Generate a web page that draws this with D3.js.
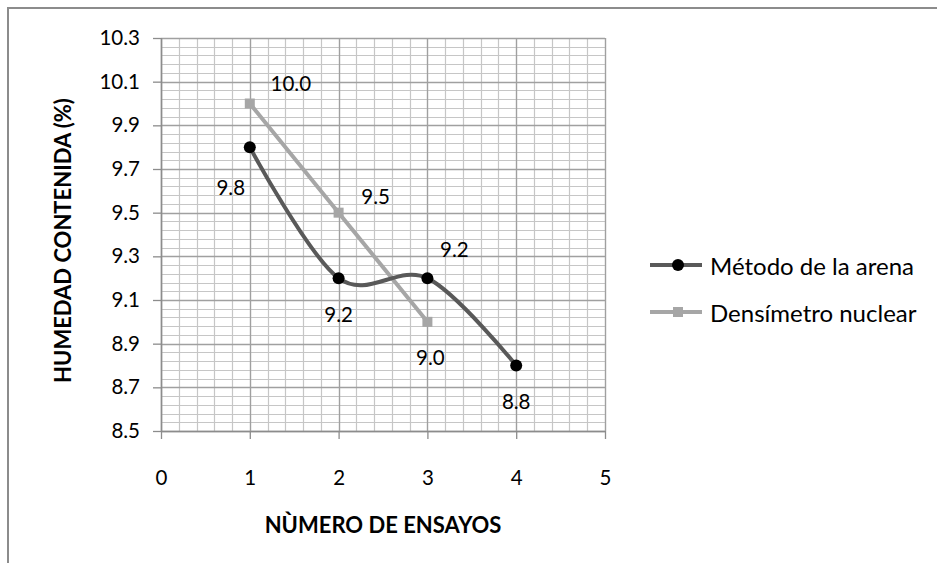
<!DOCTYPE html>
<html>
<head>
<meta charset="utf-8">
<script src="https://cdn.jsdelivr.net/npm/d3@7"></script>
<style>
  body { margin: 0; background: #fff; }
  text { font-family: Lato, "Open Sans", sans-serif; fill: #000; }
</style>
</head>
<body>
<div id="d3"></div>
<script>
// data
var ensayos = [1, 2, 3, 4];
var arena = [9.8, 9.2, 9.2, 8.8];          // Método de la arena
var nuclear = [10.0, 9.5, 9.0];            // Densímetro nuclear
var seriesNames = ["Método de la arena", "Densímetro nuclear"];
var xTicks = [0, 1, 2, 3, 4, 5];
var yTicks = [8.5, 8.7, 8.9, 9.1, 9.3, 9.5, 9.7, 9.9, 10.1, 10.3];

// where each data label sits relative to its point (px)
var arenaLabelOff = [[-19, 40], [0, 36], [27, -29], [0, 35]];
var nuclearLabelOff = [[41, -21], [37, -17], [3, 35]];

var width = 937, height = 563;
var margin = {left: 161, top: 38};
var plotW = 444, plotH = 393;

var svg = d3.select("#d3").append("svg").attr("width", width).attr("height", height);

// outer frame (cut off on right and bottom like the source)
svg.append("rect")
    .attr("x", 8).attr("y", 8).attr("width", 1000).attr("height", 1000)
    .attr("fill", "none").attr("stroke", "#8c8c8c").attr("stroke-width", 2);

var x = d3.scaleLinear().domain([0, 5]).range([0, plotW]);
var y = d3.scaleLinear().domain([8.5, 10.3]).range([plotH, 0]);

var g = svg.append("g").attr("transform", "translate(" + margin.left + "," + margin.top + ")");

// minor grid
var minorX = d3.range(0, 5.0001, 0.2);
var minorY = d3.range(8.5, 10.30001, 0.04);
g.append("g").selectAll("line").data(minorX).enter().append("line")
    .attr("x1", function(d){ return Math.round(x(d)) + 0.5; })
    .attr("x2", function(d){ return Math.round(x(d)) + 0.5; })
    .attr("y1", 0).attr("y2", plotH)
    .attr("stroke", "#c6c6c6").attr("stroke-width", 1.2);
g.append("g").selectAll("line").data(minorY).enter().append("line")
    .attr("y1", function(d){ return Math.round(y(d)) + 0.5; })
    .attr("y2", function(d){ return Math.round(y(d)) + 0.5; })
    .attr("x1", 0).attr("x2", plotW)
    .attr("stroke", "#c6c6c6").attr("stroke-width", 1.2);

// major grid
g.append("g").selectAll("line").data(xTicks).enter().append("line")
    .attr("x1", function(d){ return Math.round(x(d)) + 0.5; })
    .attr("x2", function(d){ return Math.round(x(d)) + 0.5; })
    .attr("y1", 0).attr("y2", plotH)
    .attr("stroke", "#a0a0a0").attr("stroke-width", 1.3);
g.append("g").selectAll("line").data(yTicks).enter().append("line")
    .attr("y1", function(d){ return Math.round(y(d)) + 0.5; })
    .attr("y2", function(d){ return Math.round(y(d)) + 0.5; })
    .attr("x1", 0).attr("x2", plotW)
    .attr("stroke", "#a0a0a0").attr("stroke-width", 1.3);

// axes
var yAxis = d3.axisLeft(y).tickValues(yTicks).tickSize(8).tickPadding(13)
    .tickFormat(d3.format(".1f"));
var xAxis = d3.axisBottom(x).tickValues(xTicks).tickSize(8).tickPadding(31)
    .tickFormat(d3.format("d"));

var ya = g.append("g").call(yAxis);
var xa = g.append("g").attr("transform", "translate(0," + plotH + ")").call(xAxis);
[ya, xa].forEach(function(a){
    a.select(".domain").remove();
    a.selectAll(".tick line").attr("stroke", "#8c8c8c").attr("stroke-width", 1.3);
    a.selectAll(".tick text").style("font-size", "20.5px").style("font-family", "Lato, sans-serif").attr("fill", "#000");
});
g.append("line").attr("x1", 0.5).attr("x2", 0.5).attr("y1", 0).attr("y2", plotH)
    .attr("stroke", "#8c8c8c").attr("stroke-width", 1.5);
g.append("line").attr("x1", 0).attr("x2", plotW).attr("y1", plotH + 0.5).attr("y2", plotH + 0.5)
    .attr("stroke", "#8c8c8c").attr("stroke-width", 1.5);

// series
var arenaData = arena.map(function(v, i){ return {x: ensayos[i], y: v}; });
var nuclearData = nuclear.map(function(v, i){ return {x: ensayos[i], y: v}; });

var smooth = d3.line()
    .x(function(d){ return x(d.x); })
    .y(function(d){ return y(d.y); })
    .curve(d3.curveCardinal.tension(0));
var straight = d3.line()
    .x(function(d){ return x(d.x); })
    .y(function(d){ return y(d.y); });

g.append("path").attr("d", straight(nuclearData))
    .attr("fill", "none").attr("stroke", "#a6a6a6").attr("stroke-width", 4);
g.append("path").attr("d", smooth(arenaData))
    .attr("fill", "none").attr("stroke", "#595959").attr("stroke-width", 4);

g.selectAll(".sq").data(nuclearData).enter().append("rect")
    .attr("class", "sq")
    .attr("x", function(d){ return x(d.x) - 5; })
    .attr("y", function(d){ return y(d.y) - 5; })
    .attr("width", 10).attr("height", 10)
    .attr("fill", "#a6a6a6");
g.selectAll(".dot").data(arenaData).enter().append("circle")
    .attr("class", "dot")
    .attr("cx", function(d){ return x(d.x); })
    .attr("cy", function(d){ return y(d.y); })
    .attr("r", 6).attr("fill", "#000");

// data labels
function labels(data, offs) {
    g.append("g").selectAll("text").data(data).enter().append("text")
        .attr("x", function(d, i){ return x(d.x) + offs[i][0]; })
        .attr("y", function(d, i){ return y(d.y) + offs[i][1]; })
        .attr("text-anchor", "middle").attr("dominant-baseline", "central")
        .style("font-size", "20.5px")
        .text(function(d){ return d3.format(".1f")(d.y); });
}
labels(arenaData, arenaLabelOff);
labels(nuclearData, nuclearLabelOff);

// axis titles
svg.append("text")
    .attr("x", 383).attr("y", 524)
    .attr("text-anchor", "middle").attr("dominant-baseline", "central")
    .style("font-size", "22px").style("font-weight", "bold")
    .text("NÙMERO DE ENSAYOS");
svg.append("text")
    .attr("transform", "translate(62," + (margin.top + plotH / 2 + 6) + ") rotate(-90)")
    .attr("text-anchor", "middle").attr("dominant-baseline", "central")
    .style("font-size", "22px").style("font-weight", "bold")
    .text("HUMEDAD CONTENIDA (%)");

// legend
var legend = svg.append("g").attr("transform", "translate(650,265)");
var colors = ["#595959", "#a6a6a6"];
seriesNames.forEach(function(name, i){
    var row = legend.append("g").attr("transform", "translate(0," + (i * 47) + ")");
    row.append("line").attr("x1", 0).attr("x2", 52).attr("y1", 0).attr("y2", 0)
        .attr("stroke", colors[i]).attr("stroke-width", 4);
    if (i === 0) {
        row.append("circle").attr("cx", 28).attr("cy", 0).attr("r", 6).attr("fill", "#000");
    } else {
        row.append("rect").attr("x", 23).attr("y", -5).attr("width", 10).attr("height", 10).attr("fill", "#a6a6a6");
    }
    row.append("text").attr("x", 60).attr("y", 0)
        .attr("dominant-baseline", "central")
        .style("font-size", "24px")
        .text(name);
});
</script>
</body>
</html>
